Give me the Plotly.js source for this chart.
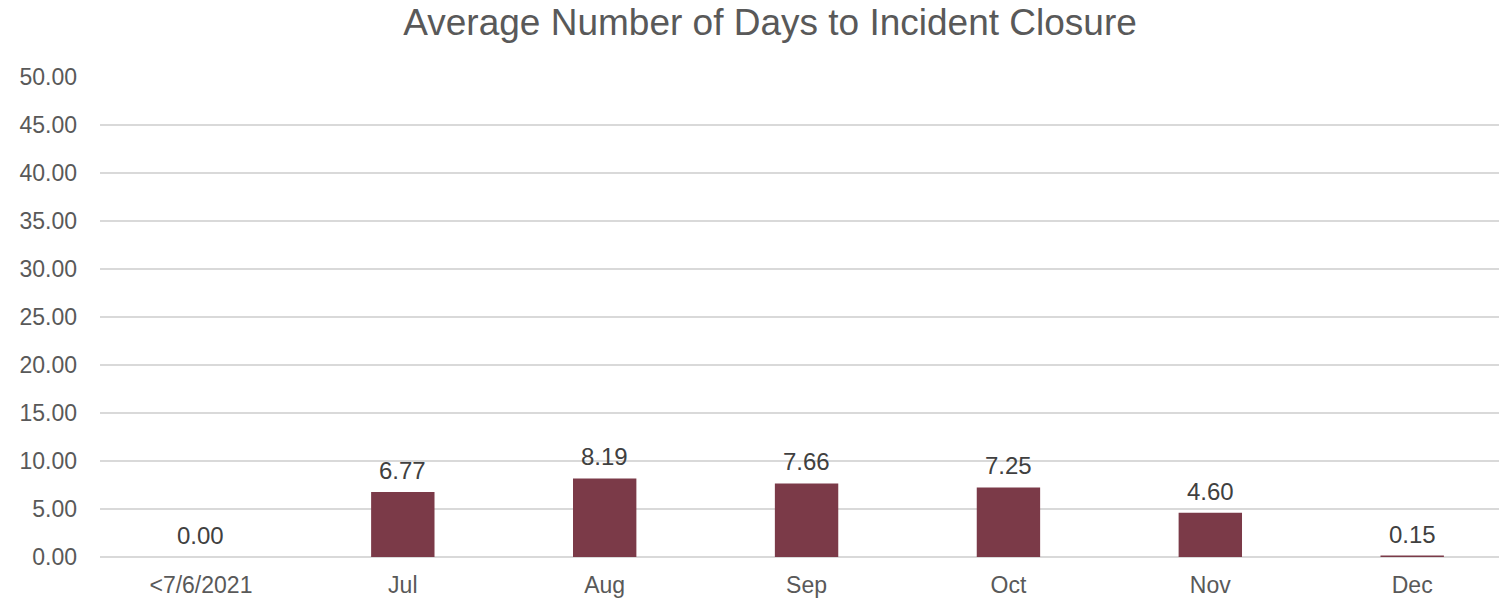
<!DOCTYPE html>
<html><head><meta charset="utf-8">
<script src="https://cdn.plot.ly/plotly-3.0.1.min.js"></script>
<style>body{margin:0;background:#fff}#chart{width:1499px;height:600px}</style>
</head><body><div id="chart"></div>
<script>
var categories = ["<7/6/2021","Jul","Aug","Sep","Oct","Nov","Dec"];
var avgDays = [0.00, 6.77, 8.19, 7.66, 7.25, 4.60, 0.15];
var yTicks = [0,5,10,15,20,25,30,35,40,45,50];

var FONT = "Liberation Sans, Arial, sans-serif";
var trace = {
  type: "bar",
  x: categories,
  y: avgDays,
  width: 0.314,
  marker: {color: "#7B3A48"},
  hoverinfo: "x+y"
};

var labels = categories.map(function(c, i){
  return {x: c, y: avgDays[i], xref: "x", yref: "y", text: avgDays[i].toFixed(2),
    showarrow: false, yanchor: "bottom", xanchor: "center", yshift: 6,
    font: {family: FONT, size: 24, color: "#404040"}};
});

var layout = {
  width: 1499, height: 600,
  margin: {l: 100, r: 0, t: 77, b: 43},
  paper_bgcolor: "#fff", plot_bgcolor: "#fff",
  showlegend: false,
  annotations: labels,
  title: {text: "Average Number of Days to Incident Closure", x: 0.5137, xanchor: "center", y: 0.963, yanchor: "middle",
    font: {family: FONT, size: 37, color: "#595959"}},
  xaxis: {type: "category", range: [-0.5, 6.43], showgrid: false, showline: false, zeroline: false, ticks: "",
    tickfont: {family: FONT, size: 23, color: "#595959"}, ticklabelstandoff: 12},
  yaxis: {range: [0, 50], tickvals: yTicks, ticktext: yTicks.map(function(v){return v.toFixed(2);}),
    showgrid: true, gridcolor: "#d9d9d9", gridwidth: 1.5, zeroline: true, zerolinecolor: "#d9d9d9", zerolinewidth: 1.5,
    showline: false, ticks: "", ticklabelstandoff: 22,
    tickfont: {family: FONT, size: 23, color: "#595959"}},
  bargap: 0.686
};
Plotly.newPlot("chart", [trace], layout, {displayModeBar: false, staticPlot: true});
</script></body></html>
